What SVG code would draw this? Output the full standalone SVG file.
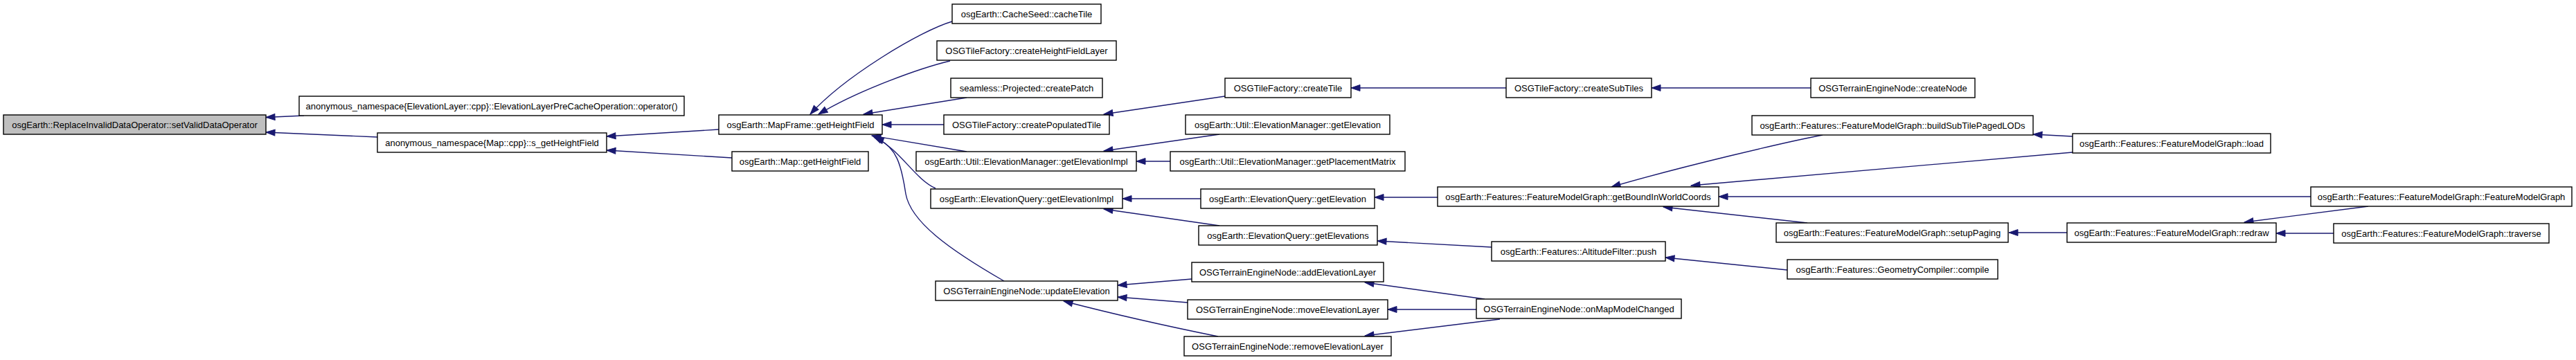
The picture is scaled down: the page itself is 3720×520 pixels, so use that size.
<svg xmlns="http://www.w3.org/2000/svg" width="3720" height="520" viewBox="0 0 3720 520">
<style>
.n rect{fill:#fff;stroke:#000;stroke-width:1.4}
.n.root rect{fill:#bfbfbf}
.n text{font-family:"Liberation Sans",Arial,sans-serif;font-size:13px;fill:#000;text-anchor:middle}
.e path{fill:none;stroke:#191970;stroke-width:1.4;marker-end:url(#ah)}
</style>
<defs>
<marker id="ah" markerUnits="userSpaceOnUse" markerWidth="14" markerHeight="10" refX="13" refY="4.5" orient="auto" overflow="visible">
<path d="M0,0 L13,4.5 L0,9 z" fill="#191970" stroke="#191970" stroke-width="1"/>
</marker>
</defs>
<rect width="3720" height="520" fill="#fff"/>
<g class="e" id="edges">
<path d="M439,167 L384,169.5"/>
<path d="M545,198 L384,191"/>
<path d="M1038,187 L876,197"/>
<path d="M1057,228 L876,217"/>
<path d="M1375,31 C1330,44 1220,110 1170,165"/>
<path d="M1372,88 C1330,98 1240,130 1182,165"/>
<path d="M1396,141 L1247,165"/>
<path d="M1363,180 L1274,180"/>
<path d="M1396,219 L1259,196"/>
<path d="M1351,272 C1320,258 1300,215 1261,197"/>
<path d="M1450,406 C1370,360 1315,320 1308,280 C1302,240 1295,210 1263,199"/>
<path d="M1769,139 L1594,165"/>
<path d="M2175,127 L1951,127"/>
<path d="M2615,127 L2385,127"/>
<path d="M1761,194 L1594,218"/>
<path d="M1690,233 L1641,233"/>
<path d="M1734,287 L1621,287"/>
<path d="M1761,326 L1594,302"/>
<path d="M2076,285 L1985,285"/>
<path d="M2154,357 L1989,348"/>
<path d="M2581,390 L2405,372"/>
<path d="M2632,195 C2580,205 2430,240 2327,270"/>
<path d="M2993,220 L2442,268"/>
<path d="M3337,284 L2482,284"/>
<path d="M2610,322 L2402,299"/>
<path d="M2993,197 L2936,194"/>
<path d="M2985,336 L2901,336"/>
<path d="M3420,298 L3241,321"/>
<path d="M3370,337 L3287,337"/>
<path d="M1721,403 L1614,412"/>
<path d="M1715,437 L1614,429"/>
<path d="M1759,486 Q1640,462 1536,435"/>
<path d="M2144,432 L1971,408"/>
<path d="M2132,447 L2004,447"/>
<path d="M2166,461 L1971,485"/>
</g>
<g class="n root" id="n_root"><rect x="5" y="166" width="379" height="28"/><text x="194.5" y="184.5">osgEarth::ReplaceInvalidDataOperator::setValidDataOperator</text></g>
<g class="n" id="n_precache"><rect x="432" y="139" width="556" height="28"/><text x="710" y="157.5">anonymous_namespace{ElevationLayer::cpp}::ElevationLayerPreCacheOperation::operator()</text></g>
<g class="n" id="n_sget"><rect x="545" y="192" width="331" height="28"/><text x="710.5" y="210.5">anonymous_namespace{Map::cpp}::s_getHeightField</text></g>
<g class="n" id="n_mapframe"><rect x="1038" y="166" width="236" height="28"/><text x="1156" y="184.5">osgEarth::MapFrame::getHeightField</text></g>
<g class="n" id="n_mapget"><rect x="1057" y="219" width="197" height="28"/><text x="1155.5" y="237.5">osgEarth::Map::getHeightField</text></g>
<g class="n" id="n_cachetile"><rect x="1375" y="6" width="215" height="28"/><text x="1482.5" y="24.5">osgEarth::CacheSeed::cacheTile</text></g>
<g class="n" id="n_chfl"><rect x="1353" y="59" width="259" height="28"/><text x="1482.5" y="77.5">OSGTileFactory::createHeightFieldLayer</text></g>
<g class="n" id="n_patch"><rect x="1373" y="113" width="219" height="28"/><text x="1482.5" y="131.5">seamless::Projected::createPatch</text></g>
<g class="n" id="n_cpt"><rect x="1363" y="166" width="239" height="28"/><text x="1482.5" y="184.5">OSGTileFactory::createPopulatedTile</text></g>
<g class="n" id="n_emimpl"><rect x="1323" y="219" width="318" height="28"/><text x="1482" y="237.5">osgEarth::Util::ElevationManager::getElevationImpl</text></g>
<g class="n" id="n_eqimpl"><rect x="1344" y="273" width="277" height="28"/><text x="1482.5" y="291.5">osgEarth::ElevationQuery::getElevationImpl</text></g>
<g class="n" id="n_upd"><rect x="1351" y="406" width="263" height="28"/><text x="1482.5" y="424.5">OSGTerrainEngineNode::updateElevation</text></g>
<g class="n" id="n_ctile"><rect x="1769" y="113" width="182" height="28"/><text x="1860" y="131.5">OSGTileFactory::createTile</text></g>
<g class="n" id="n_emget"><rect x="1712" y="166" width="295" height="28"/><text x="1859.5" y="184.5">osgEarth::Util::ElevationManager::getElevation</text></g>
<g class="n" id="n_place"><rect x="1690" y="219" width="339" height="28"/><text x="1859.5" y="237.5">osgEarth::Util::ElevationManager::getPlacementMatrix</text></g>
<g class="n" id="n_eqget"><rect x="1734" y="273" width="251" height="28"/><text x="1859.5" y="291.5">osgEarth::ElevationQuery::getElevation</text></g>
<g class="n" id="n_eqgets"><rect x="1731" y="326" width="258" height="28"/><text x="1860" y="344.5">osgEarth::ElevationQuery::getElevations</text></g>
<g class="n" id="n_add"><rect x="1721" y="379" width="277" height="28"/><text x="1859.5" y="397.5">OSGTerrainEngineNode::addElevationLayer</text></g>
<g class="n" id="n_move"><rect x="1715" y="433" width="289" height="28"/><text x="1859.5" y="451.5">OSGTerrainEngineNode::moveElevationLayer</text></g>
<g class="n" id="n_remove"><rect x="1710" y="486" width="299" height="28"/><text x="1859.5" y="504.5">OSGTerrainEngineNode::removeElevationLayer</text></g>
<g class="n" id="n_subtiles"><rect x="2175" y="113" width="210" height="28"/><text x="2280" y="131.5">OSGTileFactory::createSubTiles</text></g>
<g class="n" id="n_cnode"><rect x="2615" y="113" width="237" height="28"/><text x="2733.5" y="131.5">OSGTerrainEngineNode::createNode</text></g>
<g class="n" id="n_bound"><rect x="2076" y="270" width="406" height="28"/><text x="2279" y="288.5">osgEarth::Features::FeatureModelGraph::getBoundInWorldCoords</text></g>
<g class="n" id="n_push"><rect x="2154" y="349" width="251" height="28"/><text x="2279.5" y="367.5">osgEarth::Features::AltitudeFilter::push</text></g>
<g class="n" id="n_onmap"><rect x="2132" y="432" width="296" height="28"/><text x="2280" y="450.5">OSGTerrainEngineNode::onMapModelChanged</text></g>
<g class="n" id="n_buildsub"><rect x="2530" y="167" width="406" height="28"/><text x="2733" y="185.5">osgEarth::Features::FeatureModelGraph::buildSubTilePagedLODs</text></g>
<g class="n" id="n_setup"><rect x="2565" y="322" width="335" height="28"/><text x="2732.5" y="340.5">osgEarth::Features::FeatureModelGraph::setupPaging</text></g>
<g class="n" id="n_compile"><rect x="2581" y="375" width="304" height="28"/><text x="2733" y="393.5">osgEarth::Features::GeometryCompiler::compile</text></g>
<g class="n" id="n_load"><rect x="2993" y="193" width="286" height="28"/><text x="3136" y="211.5">osgEarth::Features::FeatureModelGraph::load</text></g>
<g class="n" id="n_fmg"><rect x="3337" y="270" width="377" height="28"/><text x="3525.5" y="288.5">osgEarth::Features::FeatureModelGraph::FeatureModelGraph</text></g>
<g class="n" id="n_redraw"><rect x="2985" y="322" width="302" height="28"/><text x="3136" y="340.5">osgEarth::Features::FeatureModelGraph::redraw</text></g>
<g class="n" id="n_traverse"><rect x="3370" y="323" width="311" height="28"/><text x="3525.5" y="341.5">osgEarth::Features::FeatureModelGraph::traverse</text></g>
</svg>
